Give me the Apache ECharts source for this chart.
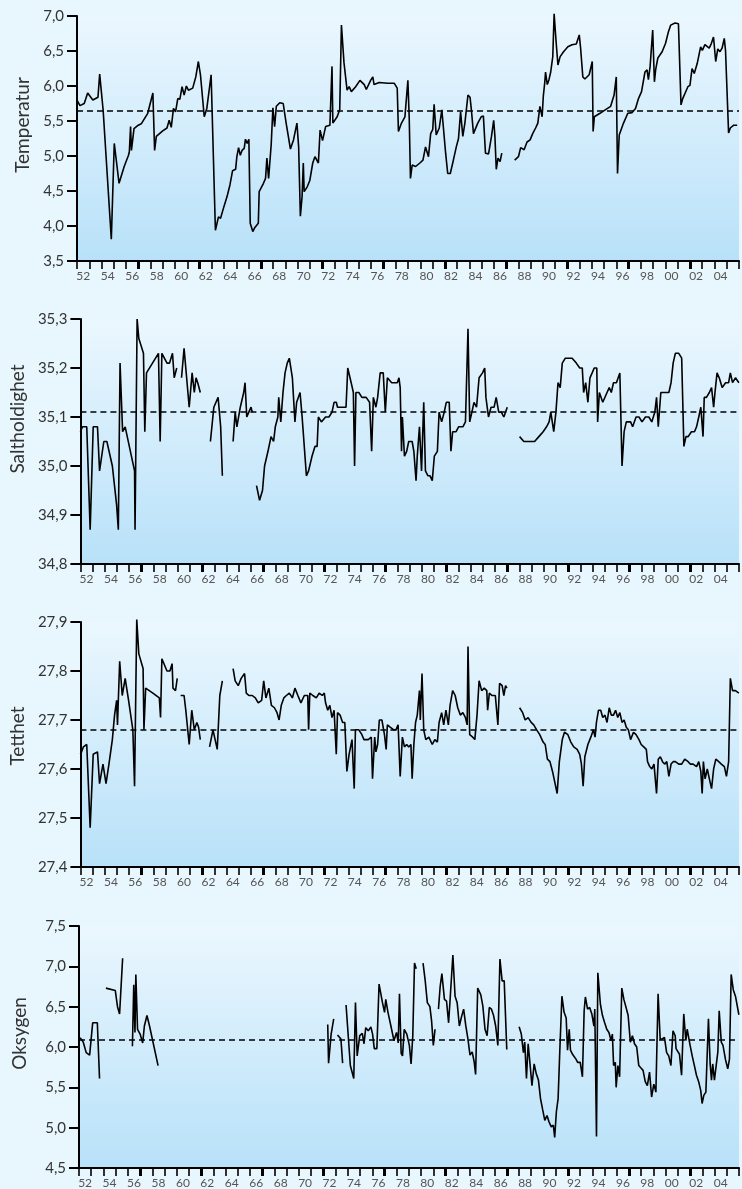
<!DOCTYPE html>
<html>
<head>
<meta charset="utf-8">
<script src="https://cdn.jsdelivr.net/npm/echarts@6/dist/echarts.min.js"></script>
<style>
html, body { margin: 0; padding: 0; background: #e8f6fd; }
#chart { width: 742px; height: 1189px; }
</style>
</head>
<body>
<div id="chart"></div>
<script>
// år 1952-2005, etikett midt i året
const yearLabels = ["52","53","54","55","56","57","58","59","60","61","62","63","64","65","66","67","68","69",
	"70","71","72","73","74","75","76","77","78","79","80","81","82","83","84","85","86","87","88","89",
	"90","91","92","93","94","95","96","97","98","99","00","01","02","03","04","05"]
const firstYear = 1952

const panelNames = ["Temperatur", "Saltholdighet", "Tetthet", "Oksygen"]
const meanValues = [5.65, 35.11, 27.685, 6.09]
const yMin = [3.5, 34.8, 27.4, 4.5]
const yMax = [7.0, 35.3, 27.9, 7.5]
const yStep = [0.5, 0.1, 0.1, 0.5]

// [år, verdi], null = brudd i serien
const tempData = [
	[1952.00,5.80],[1952.24,5.72],[1952.59,5.75],[1952.87,5.90],[1953.29,5.80],[1953.71,5.84],[1953.85,6.17],
	[1954.13,5.66],[1954.80,3.81],[1955.04,5.18],[1955.43,4.61],[1955.85,4.85],[1956.20,5.01],[1956.27,5.06],
	[1956.37,5.42],[1956.44,5.08],[1956.65,5.39],[1957.00,5.44],[1957.24,5.46],[1957.77,5.61],[1958.19,5.90],
	[1958.33,5.08],[1958.47,5.28],[1958.99,5.36],[1959.34,5.40],[1959.52,5.51],[1959.69,5.41],[1959.87,5.68],
	[1960.04,5.63],[1960.22,5.82],[1960.39,5.81],[1960.57,5.99],[1960.74,5.87],[1960.92,6.00],[1961.09,5.94],
	[1961.44,5.97],[1961.69,6.13],[1961.90,6.35],[1962.07,6.16],[1962.17,6.18],[1962.38,5.56],[1962.59,5.68],
	[1962.94,6.16],[1963.29,3.94],[1963.54,4.13],[1963.71,4.11],[1963.99,4.28],[1964.24,4.42],[1964.48,4.59],
	[1964.69,4.79],[1964.94,4.81],[1965.04,4.99],[1965.18,5.12],[1965.32,5.01],[1965.46,5.08],[1965.64,5.11],
	[1965.74,5.24],[1965.88,5.18],[1966.02,5.24],[1966.13,4.04],[1966.34,3.92],[1966.51,3.98],[1966.79,4.04],
	[1966.86,4.49],[1967.21,4.61],[1967.38,4.68],[1967.49,4.97],[1967.63,4.68],[1967.84,5.16],[1967.98,5.69],
	[1968.12,5.42],[1968.26,5.71],[1968.54,5.76],[1968.82,5.75],[1969.06,5.47],[1969.41,5.10],[1969.66,5.23],
	[1969.94,5.47],[1970.08,5.13],[1970.22,4.14],[1970.36,4.42],[1970.46,4.90],[1970.53,4.49],[1970.78,4.56],
	[1970.99,4.65],[1971.23,4.90],[1971.41,4.99],[1971.69,4.90],[1971.83,5.37],[1972.03,5.22],[1972.28,5.42],
	[1972.63,5.44],[1972.80,6.28],[1972.87,5.47],[1973.22,5.56],[1973.43,5.66],[1973.57,6.87],[1973.78,6.33],
	[1974.03,5.94],[1974.20,5.99],[1974.38,5.92],[1974.73,5.99],[1975.08,6.08],[1975.43,6.02],[1975.60,5.95],
	[1975.95,6.08],[1976.13,6.13],[1976.23,6.02],[1976.65,6.05],[1977.35,6.04],[1977.87,6.04],[1978.12,5.97],
	[1978.22,5.35],[1978.47,5.47],[1978.75,5.56],[1978.99,6.08],[1979.10,5.54],[1979.20,4.68],[1979.34,4.87],
	[1979.62,4.85],[1979.97,4.90],[1980.22,4.94],[1980.43,5.13],[1980.67,4.99],[1980.85,5.32],[1981.02,5.38],
	[1981.13,5.74],[1981.30,5.30],[1981.55,5.40],[1981.76,5.66],[1981.90,5.65],[1982.07,5.04],[1982.24,4.75],
	[1982.45,4.75],[1982.70,4.94],[1982.94,5.13],[1983.12,5.25],[1983.29,5.63],[1983.47,5.28],[1983.64,5.47],
	[1983.89,5.87],[1984.06,5.84],[1984.17,5.66],[1984.34,5.32],[1984.69,5.47],[1984.97,5.56],[1985.15,5.57],
	[1985.32,5.04],[1985.57,5.03],[1985.81,5.28],[1985.99,5.51],[1986.09,5.28],[1986.20,4.81],[1986.34,4.97],
	[1986.51,4.92],[1986.65,5.04],[1987.20,null],
	[1987.70,4.94],[1988.01,4.99],[1988.19,5.12],[1988.47,5.09],[1988.71,5.20],[1988.96,5.23],[1989.17,5.32],
	[1989.41,5.40],[1989.59,5.47],[1989.76,5.71],[1989.94,5.56],[1990.04,5.86],[1990.15,6.04],[1990.22,6.20],
	[1990.36,6.02],[1990.50,6.09],[1990.64,6.20],[1990.81,6.42],[1990.92,7.03],[1991.09,6.61],[1991.23,6.30],
	[1991.41,6.42],[1991.69,6.49],[1992.04,6.56],[1992.38,6.59],[1992.73,6.60],[1992.97,6.73],[1993.08,6.54],
	[1993.26,6.13],[1993.43,6.10],[1993.78,6.16],[1994.03,6.35],[1994.10,5.35],[1994.20,5.56],[1994.66,5.61],
	[1995.18,5.67],[1995.53,5.71],[1995.81,5.87],[1995.99,6.13],[1996.09,4.75],[1996.23,5.30],[1996.58,5.47],
	[1996.93,5.61],[1997.28,5.62],[1997.56,5.68],[1997.80,5.82],[1998.05,5.92],[1998.33,6.20],[1998.50,6.23],
	[1998.61,6.09],[1998.75,6.28],[1998.96,6.80],[1999.10,6.06],[1999.20,6.23],[1999.38,6.40],[1999.73,6.49],
	[2000.01,6.61],[2000.25,6.78],[2000.43,6.87],[2000.78,6.90],[2001.06,6.89],[2001.27,5.73],[2001.41,5.82],
	[2001.83,5.99],[2002.00,6.01],[2002.17,6.25],[2002.35,6.18],[2002.59,6.32],[2002.87,6.56],[2003.01,6.51],
	[2003.22,6.59],[2003.57,6.54],[2003.75,6.61],[2003.92,6.70],[2004.10,6.35],[2004.27,6.53],[2004.45,6.49],
	[2004.62,6.54],[2004.80,6.68],[2004.90,6.51],[2005.15,5.33],[2005.29,5.40],[2005.57,5.44],[2005.85,5.44]
]

const saltData = [
	[1952.00,35.07],[1952.17,35.08],[1952.52,35.08],[1952.80,34.87],[1953.05,35.08],[1953.40,35.08],[1953.57,34.99],
	[1953.92,35.05],[1954.17,35.05],[1954.62,35.00],[1954.97,34.92],[1955.11,34.87],[1955.25,35.21],[1955.46,35.07],
	[1955.67,35.08],[1956.44,34.99],[1956.48,34.87],[1956.65,35.30],[1956.79,35.26],[1957.17,35.23],[1957.28,35.07],
	[1957.42,35.19],[1958.40,35.23],[1958.54,35.05],[1958.68,35.23],[1959.10,35.21],[1959.31,35.21],[1959.55,35.23],
	[1959.69,35.18],[1959.90,35.20],[1960.10,null],
	[1960.29,35.18],[1960.50,35.24],[1960.71,35.18],[1960.92,35.12],[1961.16,35.19],[1961.34,35.15],[1961.48,35.18],
	[1961.62,35.17],[1961.83,35.15],[1962.20,null],
	[1962.66,35.05],[1962.94,35.12],[1963.29,35.14],[1963.50,35.08],[1963.64,34.98],[1964.00,null],
	[1964.52,35.05],[1964.69,35.11],[1964.83,35.08],[1965.11,35.12],[1965.39,35.15],[1965.50,35.17],[1965.64,35.10],
	[1965.81,35.11],[1965.99,35.12],[1966.09,35.11],[1966.25,null],
	[1966.44,34.96],[1966.69,34.93],[1966.93,34.95],[1967.10,35.00],[1967.38,35.03],[1967.63,35.06],[1967.84,35.05],
	[1967.98,35.08],[1968.19,35.10],[1968.26,35.14],[1968.43,35.09],[1968.61,35.15],[1968.78,35.19],[1968.96,35.21],
	[1969.13,35.22],[1969.38,35.18],[1969.59,35.09],[1969.73,35.13],[1970.01,35.15],[1970.18,35.10],[1970.53,34.98],
	[1970.71,34.99],[1970.99,35.02],[1971.23,35.04],[1971.41,35.04],[1971.51,35.10],[1971.76,35.09],[1972.10,35.10],
	[1972.38,35.10],[1972.63,35.11],[1972.80,35.13],[1972.98,35.13],[1973.08,35.12],[1973.22,35.12],[1973.50,35.12],
	[1973.78,35.12],[1973.92,35.20],[1974.20,35.17],[1974.38,35.15],[1974.48,35.00],[1974.59,35.15],[1974.83,35.15],
	[1975.08,35.14],[1975.43,35.14],[1975.71,35.13],[1975.88,35.03],[1976.02,35.14],[1976.23,35.12],[1976.37,35.14],
	[1976.58,35.19],[1976.83,35.19],[1977.00,35.11],[1977.17,35.18],[1977.52,35.17],[1977.77,35.17],[1977.98,35.17],
	[1978.12,35.18],[1978.22,35.16],[1978.33,35.03],[1978.40,35.10],[1978.57,35.02],[1978.75,35.03],[1978.92,35.05],
	[1979.20,35.05],[1979.34,35.03],[1979.52,34.97],[1979.62,35.02],[1979.80,35.08],[1979.97,34.99],[1980.15,35.13],
	[1980.29,34.99],[1980.50,34.98],[1980.67,34.98],[1980.85,34.97],[1981.02,35.02],[1981.27,35.03],[1981.41,35.11],
	[1981.62,35.09],[1981.83,35.11],[1982.00,35.13],[1982.24,35.13],[1982.38,35.03],[1982.52,35.07],[1982.80,35.07],
	[1983.01,35.08],[1983.19,35.08],[1983.36,35.08],[1983.57,35.09],[1983.78,35.28],[1983.92,35.09],[1984.10,35.11],
	[1984.27,35.13],[1984.48,35.12],[1984.69,35.18],[1984.97,35.19],[1985.15,35.20],[1985.25,35.14],[1985.46,35.10],
	[1985.67,35.12],[1985.92,35.12],[1986.09,35.14],[1986.30,35.11],[1986.51,35.11],[1986.72,35.10],[1986.86,35.11],
	[1987.00,35.12],[1987.50,null],
	[1988.01,35.06],[1988.36,35.05],[1988.61,35.05],[1988.89,35.05],[1989.24,35.05],[1989.59,35.06],[1989.94,35.07],
	[1990.22,35.08],[1990.43,35.09],[1990.57,35.11],[1990.81,35.07],[1990.99,35.11],[1991.16,35.17],[1991.34,35.16],
	[1991.51,35.21],[1991.76,35.22],[1992.04,35.22],[1992.32,35.22],[1992.66,35.21],[1992.94,35.20],[1993.15,35.20],
	[1993.26,35.15],[1993.43,35.17],[1993.61,35.13],[1993.78,35.18],[1993.96,35.19],[1994.13,35.20],[1994.34,35.20],
	[1994.41,35.09],[1994.55,35.15],[1994.83,35.13],[1995.18,35.15],[1995.36,35.16],[1995.53,35.15],[1995.71,35.17],
	[1995.95,35.17],[1996.23,35.19],[1996.41,35.00],[1996.58,35.07],[1996.76,35.09],[1996.93,35.09],[1997.11,35.09],
	[1997.28,35.08],[1997.56,35.10],[1997.80,35.10],[1998.05,35.09],[1998.33,35.10],[1998.61,35.10],[1998.85,35.09],
	[1999.10,35.11],[1999.24,35.14],[1999.38,35.08],[1999.59,35.15],[1999.90,35.15],[2000.25,35.15],[2000.43,35.17],
	[2000.60,35.21],[2000.78,35.23],[2001.06,35.23],[2001.30,35.22],[2001.48,35.04],[2001.65,35.06],[2001.83,35.06],
	[2002.10,35.07],[2002.35,35.07],[2002.52,35.08],[2002.70,35.10],[2002.87,35.12],[2003.05,35.06],[2003.15,35.14],
	[2003.33,35.14],[2003.57,35.15],[2003.75,35.16],[2003.92,35.12],[2004.03,35.15],[2004.20,35.19],[2004.38,35.18],
	[2004.62,35.16],[2004.90,35.17],[2005.15,35.17],[2005.29,35.19],[2005.47,35.17],[2005.71,35.18],[2005.99,35.17]
]

const densData = [
	[1952.00,27.63],[1952.10,27.635],[1952.24,27.645],[1952.52,27.65],[1952.80,27.48],[1953.05,27.63],[1953.40,27.635],
	[1953.57,27.57],[1953.85,27.61],[1954.10,27.57],[1954.34,27.61],[1954.62,27.66],[1954.80,27.71],[1954.97,27.74],
	[1955.04,27.69],[1955.22,27.82],[1955.43,27.75],[1955.67,27.785],[1955.95,27.74],[1956.30,27.68],[1956.44,27.565],
	[1956.62,27.905],[1956.79,27.835],[1957.14,27.805],[1957.21,27.68],[1957.35,27.765],[1957.94,27.755],[1958.47,27.745],
	[1958.57,27.705],[1958.68,27.825],[1959.10,27.80],[1959.34,27.80],[1959.52,27.815],[1959.59,27.765],[1959.80,27.76],
	[1959.94,27.785],[1960.05,null],
	[1960.22,27.75],[1960.50,27.75],[1960.64,27.72],[1960.92,27.65],[1961.13,27.72],[1961.34,27.68],[1961.55,27.695],
	[1961.69,27.685],[1961.83,27.66],[1962.20,null],
	[1962.59,27.645],[1962.87,27.68],[1963.22,27.64],[1963.43,27.75],[1963.64,27.78],[1964.00,null],
	[1964.52,27.805],[1964.69,27.78],[1964.94,27.77],[1965.18,27.785],[1965.46,27.795],[1965.60,27.755],[1965.81,27.75],
	[1966.09,27.75],[1966.34,27.745],[1966.58,27.735],[1966.86,27.74],[1967.03,27.78],[1967.21,27.745],[1967.45,27.765],
	[1967.66,27.73],[1967.91,27.725],[1968.12,27.715],[1968.29,27.70],[1968.47,27.73],[1968.68,27.745],[1968.89,27.75],
	[1969.13,27.755],[1969.38,27.745],[1969.59,27.765],[1969.83,27.75],[1970.08,27.735],[1970.36,27.75],[1970.64,27.75],
	[1970.71,27.68],[1970.81,27.755],[1971.06,27.75],[1971.34,27.745],[1971.58,27.755],[1971.83,27.75],[1972.00,27.755],
	[1972.10,27.735],[1972.28,27.72],[1972.45,27.73],[1972.63,27.705],[1972.80,27.72],[1972.98,27.63],[1973.08,27.715],
	[1973.29,27.71],[1973.50,27.695],[1973.68,27.695],[1973.85,27.595],[1974.03,27.63],[1974.27,27.66],[1974.45,27.56],
	[1974.55,27.68],[1974.83,27.68],[1975.08,27.67],[1975.25,27.66],[1975.60,27.66],[1975.85,27.665],[1975.95,27.58],
	[1976.13,27.665],[1976.23,27.635],[1976.37,27.65],[1976.51,27.70],[1976.72,27.70],[1976.93,27.67],[1977.07,27.64],
	[1977.17,27.69],[1977.42,27.685],[1977.70,27.68],[1977.87,27.68],[1978.05,27.69],[1978.22,27.585],[1978.40,27.665],
	[1978.57,27.645],[1978.75,27.65],[1978.92,27.645],[1979.10,27.65],[1979.20,27.58],[1979.34,27.65],[1979.48,27.695],
	[1979.62,27.71],[1979.80,27.76],[1979.87,27.70],[1980.01,27.795],[1980.15,27.68],[1980.32,27.66],[1980.57,27.665],
	[1980.85,27.65],[1981.06,27.66],[1981.27,27.655],[1981.41,27.695],[1981.62,27.715],[1981.79,27.69],[1981.97,27.72],
	[1982.17,27.69],[1982.31,27.73],[1982.52,27.76],[1982.73,27.75],[1982.94,27.725],[1983.15,27.71],[1983.36,27.715],
	[1983.57,27.705],[1983.71,27.69],[1983.78,27.85],[1983.92,27.67],[1984.17,27.665],[1984.34,27.66],[1984.52,27.71],
	[1984.69,27.78],[1984.90,27.76],[1985.11,27.765],[1985.32,27.76],[1985.39,27.72],[1985.53,27.755],[1985.74,27.75],
	[1986.02,27.75],[1986.23,27.69],[1986.37,27.775],[1986.58,27.77],[1986.72,27.75],[1986.86,27.77],[1986.97,27.765],
	[1987.50,null],
	[1988.01,27.725],[1988.26,27.715],[1988.47,27.70],[1988.71,27.705],[1988.96,27.695],[1989.17,27.69],[1989.41,27.68],
	[1989.66,27.67],[1989.94,27.655],[1990.11,27.65],[1990.29,27.62],[1990.50,27.615],[1990.71,27.595],[1990.92,27.57],
	[1991.09,27.55],[1991.27,27.615],[1991.51,27.66],[1991.69,27.675],[1991.97,27.67],[1992.21,27.655],[1992.45,27.645],
	[1992.73,27.64],[1992.94,27.63],[1993.08,27.61],[1993.22,27.565],[1993.36,27.625],[1993.61,27.65],[1993.85,27.665],
	[1994.06,27.68],[1994.20,27.665],[1994.31,27.695],[1994.48,27.72],[1994.66,27.72],[1994.83,27.705],[1995.01,27.71],
	[1995.18,27.695],[1995.36,27.725],[1995.53,27.71],[1995.71,27.71],[1995.88,27.72],[1996.06,27.705],[1996.23,27.715],
	[1996.41,27.695],[1996.58,27.70],[1996.76,27.685],[1996.93,27.68],[1997.11,27.66],[1997.35,27.675],[1997.56,27.67],
	[1997.80,27.66],[1997.98,27.65],[1998.19,27.645],[1998.40,27.64],[1998.50,27.615],[1998.68,27.605],[1998.85,27.60],
	[1999.03,27.61],[1999.24,27.55],[1999.38,27.62],[1999.55,27.625],[1999.73,27.615],[1999.90,27.61],[2000.08,27.615],
	[2000.25,27.585],[2000.43,27.61],[2000.60,27.615],[2000.78,27.615],[2001.06,27.61],[2001.30,27.61],[2001.55,27.62],
	[2001.83,27.615],[2002.00,27.61],[2002.24,27.61],[2002.52,27.605],[2002.70,27.615],[2002.87,27.595],[2002.98,27.55],
	[2003.08,27.615],[2003.22,27.58],[2003.40,27.60],[2003.57,27.58],[2003.75,27.56],[2003.92,27.60],[2004.10,27.62],
	[2004.34,27.615],[2004.55,27.61],[2004.80,27.605],[2004.97,27.585],[2005.15,27.615],[2005.29,27.785],[2005.47,27.76],
	[2005.71,27.76],[2005.99,27.755]
]

const oxyData = [
	[1952.00,6.12],[1952.17,6.10],[1952.35,6.06],[1952.59,5.93],[1952.87,5.90],[1953.12,6.30],[1953.50,6.30],[1953.68,5.61],
	[1953.90,null],
	[1954.20,6.73],[1954.97,6.70],[1955.15,6.50],[1955.32,6.41],[1955.57,7.10],[1955.90,null],
	[1956.37,6.01],[1956.48,6.77],[1956.58,6.18],[1956.65,6.90],[1956.79,6.22],[1957.00,6.16],[1957.21,6.05],
	[1957.35,6.26],[1957.56,6.39],[1957.77,6.26],[1958.47,5.77],[1960.00,null],
	[1972.35,6.28],[1972.42,5.80],[1972.63,6.16],[1972.84,6.35],[1973.00,null],
	[1973.15,6.15],[1973.43,6.10],[1973.57,5.80],[1973.70,null],
	[1973.85,6.52],[1974.20,5.77],[1974.48,5.61],[1974.62,6.55],[1974.76,5.89],[1974.97,6.14],[1975.18,6.17],
	[1975.32,6.04],[1975.46,6.24],[1975.67,6.20],[1975.88,6.25],[1976.02,6.16],[1976.16,5.98],[1976.37,5.98],
	[1976.55,6.78],[1976.83,6.55],[1977.00,6.43],[1977.10,6.59],[1977.28,6.43],[1977.52,6.26],[1977.77,6.08],
	[1977.98,6.18],[1978.12,6.05],[1978.22,6.66],[1978.36,5.92],[1978.47,5.89],[1978.61,6.22],[1978.82,6.16],
	[1979.03,6.02],[1979.17,5.79],[1979.31,6.14],[1979.45,7.04],[1979.59,6.97],[1979.90,null],
	[1980.15,7.04],[1980.32,6.83],[1980.50,6.55],[1980.71,6.50],[1980.85,6.32],[1980.99,6.02],[1981.13,6.22],
	[1981.28,null],
	[1981.41,6.47],[1981.55,6.75],[1981.69,6.91],[1981.90,6.59],[1982.07,6.57],[1982.24,6.30],[1982.38,6.63],
	[1982.59,7.14],[1982.77,6.63],[1982.94,6.55],[1983.12,6.26],[1983.29,6.37],[1983.47,6.47],[1983.64,6.27],
	[1983.82,6.10],[1983.99,5.90],[1984.17,5.94],[1984.34,5.81],[1984.45,5.66],[1984.62,6.73],[1984.87,6.65],
	[1985.04,6.51],[1985.22,6.22],[1985.39,6.14],[1985.57,6.49],[1985.74,6.47],[1985.92,6.39],[1986.09,6.26],
	[1986.27,6.02],[1986.44,7.09],[1986.62,6.82],[1986.79,6.82],[1987.00,5.97],[1987.50,null],
	[1988.01,6.25],[1988.19,6.16],[1988.36,5.93],[1988.47,6.06],[1988.61,5.61],[1988.75,6.04],[1988.89,5.81],
	[1989.06,5.52],[1989.24,5.79],[1989.41,5.67],[1989.59,5.59],[1989.76,5.36],[1989.94,5.22],[1990.11,5.09],
	[1990.29,5.15],[1990.46,5.07],[1990.64,5.01],[1990.81,5.03],[1990.92,4.88],[1991.06,5.20],[1991.20,5.36],
	[1991.34,5.96],[1991.51,6.63],[1991.69,6.43],[1991.86,6.36],[1991.97,5.96],[1992.11,6.22],[1992.21,5.96],
	[1992.38,5.91],[1992.66,5.85],[1992.80,5.81],[1993.01,5.81],[1993.19,5.63],[1993.33,6.45],[1993.43,6.62],
	[1993.61,6.47],[1993.78,6.49],[1993.96,6.41],[1994.13,6.26],[1994.20,6.47],[1994.34,4.89],[1994.45,6.92],
	[1994.66,6.53],[1994.83,6.39],[1995.01,6.30],[1995.18,6.22],[1995.36,6.18],[1995.53,6.08],[1995.64,6.16],
	[1995.74,5.77],[1995.88,5.81],[1995.95,5.50],[1996.09,5.77],[1996.23,5.63],[1996.41,6.73],[1996.58,6.59],
	[1996.76,6.49],[1996.93,6.39],[1997.11,6.06],[1997.28,6.14],[1997.45,6.04],[1997.63,6.00],[1997.80,5.77],
	[1997.98,5.74],[1998.15,5.71],[1998.33,5.57],[1998.50,5.52],[1998.68,5.69],[1998.85,5.38],[1999.03,5.54],
	[1999.20,5.44],[1999.38,6.66],[1999.55,6.10],[1999.73,6.10],[1999.90,6.12],[2000.08,5.93],[2000.25,5.89],
	[2000.43,5.77],[2000.60,6.20],[2000.78,6.14],[2000.85,5.98],[2000.95,5.97],[2001.13,5.91],[2001.30,5.65],
	[2001.48,6.41],[2001.65,6.08],[2001.76,6.22],[2002.00,6.02],[2002.17,5.89],[2002.35,5.77],[2002.52,5.65],
	[2002.70,5.57],[2002.87,5.46],[2002.98,5.30],[2003.12,5.40],[2003.29,5.44],[2003.50,6.35],[2003.64,5.79],
	[2003.75,5.59],[2003.85,5.79],[2003.99,5.59],[2004.10,5.73],[2004.27,5.94],[2004.38,6.45],[2004.55,6.06],
	[2004.69,6.02],[2004.90,5.84],[2005.08,5.73],[2005.22,5.85],[2005.36,6.90],[2005.53,6.71],[2005.71,6.63],
	[2005.99,6.40]
]

const seriesData = [tempData, saltData, densData, oxyData]

// streker ved hvert årsskifte, tykke hvert femte år, etikett midt i annethvert år
const yearTicks = yearLabels.map((_, k) => firstYear + k).concat([firstYear + yearLabels.length])
const majorTicks = yearTicks.filter((y) => (y - firstYear) % 5 === 0 && y > firstYear)
const labelPos = yearLabels.map((_, k) => firstYear + k + 0.5).filter((_, k) => k % 2 === 0)

const chart = echarts.init(document.getElementById("chart"))

const gridTop = [16, 319, 622, 926]
const gridLeft = [77, 79, 79, 79]
const nameGap = [42, 48, 48, 50]
const nameSpacer = [27, 45, 17, 27]

const fontFamily = "Lato, 'Open Sans', sans-serif"

let grids = []
let xAxes = []
let yAxes = []
let series = []

// en x-akse som bare tegner streker
const tickAxis = (i, values, width) => ({
	gridIndex: i,
	type: "value",
	position: "bottom",
	min: firstYear,
	max: firstYear + yearLabels.length,
	axisLine: { show: false },
	axisTick: { show: true, customValues: values, length: 8, lineStyle: { color: "#000", width: width } },
	axisLabel: { show: false },
	splitLine: { show: false }
})

panelNames.forEach((name, i) => {
	grids.push({
		left: gridLeft[i],
		right: 3,
		top: gridTop[i],
		height: 245,
		show: true,
		borderWidth: 0,
		backgroundColor: new echarts.graphic.LinearGradient(0, 0, 0, 1, [
			{ offset: 0, color: "#ebf7fe" },
			{ offset: 1, color: "#b8e1f9" }
		])
	})
	// årsakse: linje + etiketter
	xAxes.push({
		gridIndex: i,
		type: "value",
		position: "bottom",
		min: firstYear,
		max: firstYear + yearLabels.length,
		axisLine: { show: true, lineStyle: { color: "#000", width: 2 } },
		axisTick: { show: false },
		axisLabel: {
			customValues: labelPos,
			margin: 9,
			color: "#555",
			fontSize: 12,
			fontFamily: fontFamily,
			formatter: (v) => yearLabels[Math.floor(v) - firstYear]
		},
		splitLine: { show: false }
	})
	xAxes.push(tickAxis(i, yearTicks, 1.6))
	xAxes.push(tickAxis(i, majorTicks, 3))
	yAxes.push({
		gridIndex: i,
		type: "value",
		min: yMin[i],
		max: yMax[i],
		interval: yStep[i],
		name: "{s|}{n|" + name + "}",
		nameLocation: "middle",
		nameGap: nameGap[i],
		nameTextStyle: {
			rich: {
				s: { width: nameSpacer[i] },
				n: { color: "#333", fontSize: 19, fontFamily: fontFamily }
			}
		},
		axisLine: { show: true, lineStyle: { color: "#000", width: 2 } },
		axisTick: { show: true, length: 10, lineStyle: { color: "#000", width: 2 } },
		axisLabel: {
			margin: 13,
			color: "#333",
			fontSize: 15,
			fontFamily: fontFamily,
			formatter: (v) => v.toFixed(1).replace(".", ",")
		},
		splitLine: { show: false }
	})
	series.push({
		name: name,
		type: "line",
		xAxisIndex: i * 3,
		yAxisIndex: i,
		data: seriesData[i],
		showSymbol: false,
		clip: false,
		lineStyle: { color: "#000", width: 1.6 },
		markLine: {
			silent: true,
			symbol: "none",
			label: { show: false },
			lineStyle: { color: "#000", width: 1.5, type: [6, 4] },
			data: [{ yAxis: meanValues[i] }]
		}
	})
})

chart.setOption({
	backgroundColor: "#e8f6fd",
	animation: false,
	grid: grids,
	xAxis: xAxes,
	yAxis: yAxes,
	series: series
})
</script>
</body>
</html>
